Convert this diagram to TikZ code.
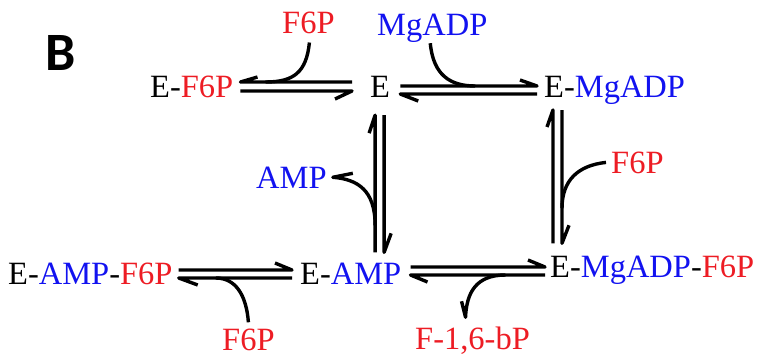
\documentclass[tikz,border=0pt]{standalone}
\usepackage{fontspec}
\setmainfont{Liberation Serif}
\newfontfamily\panelfont{Carlito}
\usetikzlibrary{calc}
\definecolor{sred}{RGB}{237,28,36}
\definecolor{sblue}{RGB}{18,18,240}
\newcommand\rd[1]{\textcolor{sred}{#1}}
\newcommand\bl[1]{\textcolor{sblue}{#1}}
\begin{document}
\begin{tikzpicture}[x=1pt,y=-1pt,
  lbl/.style={inner sep=0pt, anchor=base west, font=\rmfamily\fontsize{32.5}{39}\selectfont},
  rx/.style={line width=3.4pt, line join=round}]
\useasboundingbox (0,0) rectangle (760,356);

% panel letter
\node[inner sep=0pt, anchor=base west, font=\panelfont\bfseries\fontsize{54}{60}\selectfont] (panel) at (45,70) {B};

% enzyme species
\node[lbl] (ef6p)    at (150,97)  {E-\rd{F6P}};
\node[lbl] (e)       at (370,97)  {E};
\node[lbl] (emgadp)  at (544,97)  {E-\bl{MgADP}};
\node[lbl] (eampf6p) at (8,284)   {E-\bl{AMP}-\rd{F6P}};
\node[lbl] (eamp)    at (300,284) {E-\bl{AMP}};
\node[lbl] (emgf6p)  at (550,277) {E-\bl{MgADP}-\rd{F6P}};

% ligands and product
\node[lbl] (f6pa)  at (282,33)  {\rd{F6P}};
\node[lbl] (mgadp) at (377,35)  {\bl{MgADP}};
\node[lbl] (amp)   at (256,188) {\bl{AMP}};
\node[lbl] (f6pb)  at (611,173) {\rd{F6P}};
\node[lbl] (f6pc)  at (222,350) {\rd{F6P}};
\node[lbl] (fbp)   at (415,349) {\rd{F-1,6-bP}};

% ---- E-F6P <=> E
\coordinate (p1l) at ([xshift=7pt]ef6p.base east);
\coordinate (p1r) at ([xshift=-18pt]e.base west);
\draw[rx] ([yshift=15pt]p1r) -- ([yshift=15pt]p1l) -- +(17pt,5pt);
\draw[rx] ([yshift=6pt]p1l) -- ([yshift=6pt]p1r) -- +(-17pt,-8pt);
\draw[rx] ([xshift=1pt,yshift=-9pt]f6pa.south) .. controls +(-3pt,-30pt) and +(28pt,0pt) .. ([xshift=25pt,yshift=15pt]p1l);

% ---- E <=> E-MgADP
\coordinate (p2l) at ([xshift=10pt]e.base east);
\coordinate (p2r) at ([xshift=-7pt]emgadp.base west);
\draw[rx] ([yshift=11pt]p2l) -- ([yshift=11pt]p2r) -- +(-17pt,6pt);
\draw[rx] ([yshift=3pt]p2r) -- ([yshift=3pt]p2l) -- +(18pt,-7pt);
\draw[rx] ([xshift=-2pt,yshift=-1pt]mgadp.south) .. controls +(3pt,-32pt) and +(-25pt,0pt) .. ([xshift=75pt,yshift=11pt]p2l);

% ---- E <=> E-AMP
\coordinate (v1t) at ([yshift=-18pt]e.south);
\path ([yshift=10pt]eamp.north) coordinate (q1);
\coordinate (v1b) at (v1t |- q1);
\draw[rx] ([xshift=-5pt]v1b) -- ([xshift=-5pt]v1t) -- +(-6pt,-18pt);
\draw[rx] ([xshift=4pt]v1t) -- ([xshift=4pt]v1b) -- +(7pt,19pt);
\draw[rx] ([xshift=-5pt,yshift=27pt]v1b) .. controls +(0pt,35pt) and +(25pt,-2pt) .. ([xshift=6pt]amp.east) -- +(20pt,4pt);

% ---- E-MgADP <=> E-MgADP-F6P
\coordinate (v2t) at ([xshift=13.5pt,yshift=-13pt]emgadp.base west);
\path ([yshift=12pt]emgf6p.north) coordinate (q2);
\coordinate (v2b) at (v2t |- q2);
\draw[rx] ([xshift=-4.5pt]v2b) -- ([xshift=-4.5pt]v2t) -- +(-6pt,-17pt);
\draw[rx] ([xshift=4.5pt]v2t) -- ([xshift=4.5pt]v2b) -- +(7pt,18pt);
\draw[rx] ([xshift=-5pt]f6pb.west) .. controls +(-28pt,-3pt) and +(0pt,28pt) .. ([xshift=4.5pt,yshift=35pt]v2b);

% ---- E-AMP-F6P <=> E-AMP
\coordinate (p3l) at ([xshift=6pt]eampf6p.base east);
\coordinate (p3r) at ([xshift=-8pt]eamp.base west);
\draw[rx] ([yshift=14pt]p3l) -- ([yshift=14pt]p3r) -- +(-17pt,7pt);
\draw[rx] ([yshift=6pt]p3r) -- ([yshift=6pt]p3l) -- +(19pt,-7pt);
\draw[rx] ([yshift=6pt]f6pc.north) .. controls +(-2pt,27pt) and +(20pt,0pt) .. ([xshift=37pt,yshift=6pt]p3l);

% ---- E-AMP <=> E-MgADP-F6P
\coordinate (p4l) at ([xshift=9pt]eamp.base east);
\path ([xshift=-5pt]emgf6p.west) coordinate (q4);
\coordinate (p4r) at (p4l -| q4);
\draw[rx] ([yshift=17pt]p4l) -- ([yshift=17pt]p4r) -- +(-17pt,7pt);
\draw[rx] ([yshift=9pt]p4r) -- ([yshift=9pt]p4l) -- +(17pt,-7pt);
\draw[rx] ([xshift=95pt,yshift=9pt]p4l) .. controls +(-30pt,0pt) and +(1pt,24pt) .. ([xshift=-7pt,yshift=9pt]fbp.north) -- +(-4pt,16pt);
\end{tikzpicture}
\end{document}
